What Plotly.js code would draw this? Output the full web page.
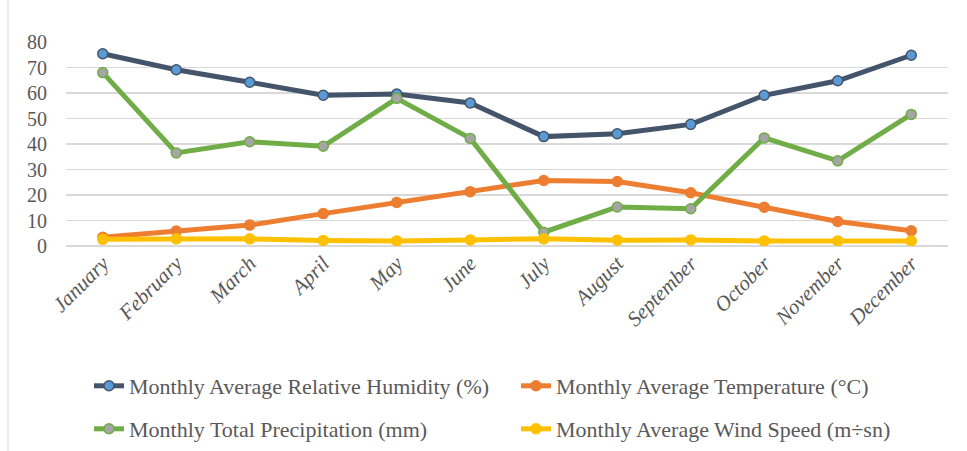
<!DOCTYPE html>
<html>
<head>
<meta charset="utf-8">
<script src="https://cdn.plot.ly/plotly-3.0.1.min.js"></script>
<style>html,body{margin:0;padding:0;background:#fff;}#chart{width:967px;height:451px;}</style>
</head>
<body>
<div id="chart"></div>
<script>
const months = ["January","February","March","April","May","June","July","August","September","October","November","December"];
const humidity = [75.4, 69.1, 64.2, 59.1, 59.6, 56.1, 42.9, 44.0, 47.7, 59.1, 64.8, 74.8];
const temperature = [3.4, 5.9, 8.2, 12.7, 17.1, 21.3, 25.7, 25.3, 20.9, 15.2, 9.6, 6.0];
const precipitation = [68.0, 36.5, 40.9, 39.1, 57.9, 42.2, 5.4, 15.3, 14.6, 42.4, 33.4, 51.6];
const windSpeed = [2.6, 2.8, 2.8, 2.2, 2.0, 2.4, 2.8, 2.3, 2.4, 2.0, 2.0, 2.0];
const yTicks = [0, 10, 20, 30, 40, 50, 60, 70, 80];

const FONT = "Liberation Serif, DejaVu Serif, serif";

function tr(name, y, lineColor, markerColor, markerLine, leg) {
  return {
    type: "scatter", mode: "lines+markers", name: name, x: months, y: y, legend: leg,
    line: {color: lineColor, width: 5},
    marker: {symbol: "circle", size: 10, color: markerColor, line: {color: markerLine, width: 1.5}}
  };
}

const data = [
  tr("Monthly Average Relative Humidity (%)", humidity, "#44546A", "#5B9BD5", "#44546A", "legend"),
  tr("Monthly Average Temperature (°C)", temperature, "#ED7D31", "#ED7D31", "#ED7D31", "legend"),
  tr("Monthly Total Precipitation (mm)", precipitation, "#70AD47", "#A5A5A5", "#70AD47", "legend2"),
  tr("Monthly Average Wind Speed (m÷sn)", windSpeed, "#FFC000", "#FFC000", "#FFC000", "legend2")
];

const W = 967, H = 451, plotW = 882;
function legendCfg(yCenterPx) {
  return {
    orientation: "h", xref: "container", yref: "container",
    x: 89 / W, xanchor: "left",
    y: 1 - yCenterPx / H, yanchor: "middle",
    entrywidth: 382, entrywidthmode: "pixels", itemwidth: 30,
    bgcolor: "rgba(0,0,0,0)",
    font: {family: FONT, size: 22, color: "#595959"}
  };
}

const layout = {
  width: W, height: H,
  margin: {l: 66, r: 19, t: 42, b: 205},
  paper_bgcolor: "#fff", plot_bgcolor: "#fff",
  font: {family: FONT, color: "#595959", size: 20},
  showlegend: true,
  xaxis: {
    type: "category", tickangle: -45, showgrid: false, zeroline: false, automargin: false,
    showline: false, ticks: "", range: [-0.5, 11.5],
    tickfont: {family: FONT, size: 21, color: "#595959", style: "italic"}
  },
  yaxis: {
    range: [0, 80], tickvals: yTicks, showgrid: true, gridcolor: "#D9D9D9", gridwidth: 1.5,
    zeroline: true, zerolinecolor: "#D9D9D9", zerolinewidth: 1.5, showline: false, ticks: "",
    ticklabelstandoff: 18, automargin: false,
    tickfont: {family: FONT, size: 20, color: "#595959"}
  },
  legend: legendCfg(386),
  legend2: legendCfg(429),
  shapes: [{type: "line", xref: "paper", yref: "paper", x0: (8 - 66) / plotW, x1: (8 - 66) / plotW, y0: -1.1, y1: 1.3,
    line: {color: "#D9D9D9", width: 1}}]
};

Plotly.newPlot("chart", data, layout, {displayModeBar: false, staticPlot: true});
</script>
</body>
</html>
